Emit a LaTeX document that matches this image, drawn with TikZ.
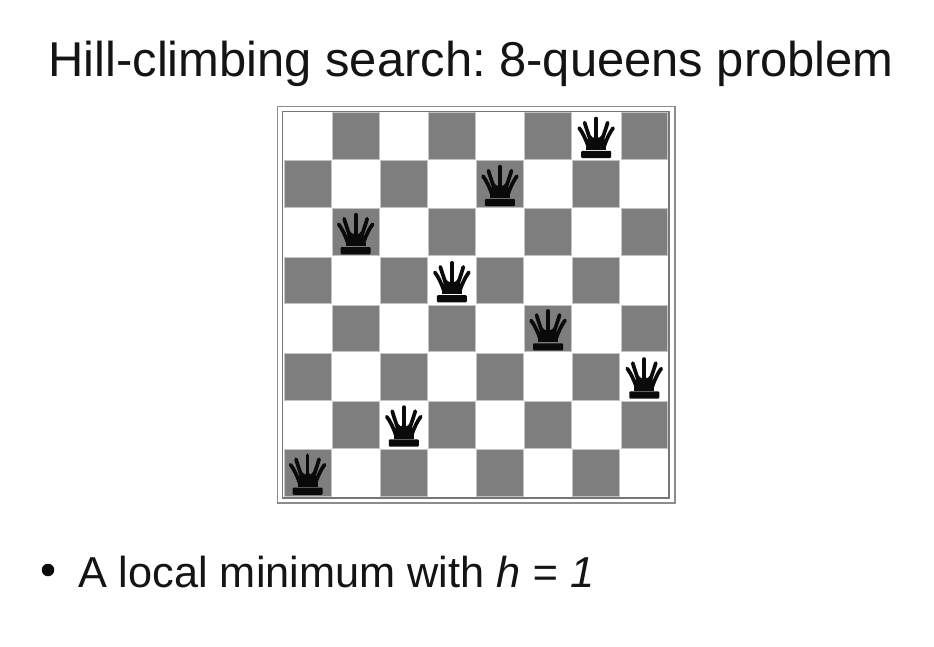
\documentclass[tikz,border=0pt]{standalone}
\usepackage{fontspec}
\setmainfont{Liberation Sans}
\frenchspacing
\definecolor{cellgray}{HTML}{7E7E7E}
\definecolor{framegray}{HTML}{8C8C8C}
\definecolor{inkblack}{HTML}{0A0A0A}
\definecolor{textgray}{HTML}{141414}
\tikzset{
  x=1pt,y=-1pt,
  labeltext/.style={inner sep=0pt,outer sep=0pt,anchor=base west,text=textgray},
  darkcell/.style={fill=cellgray,draw=cellgray!45,line width=0.8pt},
  fingerline/.style={inkblack,line width=3.7pt,line cap=round},
  queen/.pic={
    \fill[inkblack,rounded corners=1pt] (-15,14.8) rectangle (15,22);
    \fill[inkblack] (-10,10.5) rectangle (10,14);
    % solid part of the crown
    \fill[inkblack] (-9.5,11) -- (-11.5,2.5) -- (-7,3.5) -- (-6,-1) -- (-2.5,2) -- (0,-3) -- (2.5,2) -- (6,-1) -- (7,3.5) -- (11.5,2.5) -- (9.5,11) -- cycle;
    % five curved fingers
    \draw[fingerline] (-17,-8) .. controls (-13.5,-3.5) and (-10.5,3) .. (-8,10);
    \draw[fingerline] (17,-8) .. controls (13.5,-3.5) and (10.5,3) .. (8,10);
    \draw[fingerline] (-11.5,-13.5) .. controls (-9.5,-6) and (-6,2) .. (-4.5,10);
    \draw[fingerline] (11.5,-13.5) .. controls (9.5,-6) and (6,2) .. (4.5,10);
    \draw[fingerline] (0,-17.5) -- (0,10);
  }
}
\begin{document}
\begin{tikzpicture}
\useasboundingbox (0,0) rectangle (934,647);
\fill[white] (0,0) rectangle (934,647);
\node[labeltext,font=\fontsize{48.9}{52}\selectfont] (title) at (48.5,77) {Hill-climbing search: 8-queens problem};
% board frame
\draw[framegray,line width=1.8pt,fill=white] (277.5,106.5) rectangle (675,503);
\draw[framegray!85!black,line width=1.8pt] (282.5,111.5) rectangle (669,498);
% cells
\foreach \r in {0,...,7}{
  \foreach \c in {0,...,7}{
    \pgfmathtruncatemacro{\odd}{mod(\r+\c,2)}
    \ifnum\odd=1
      \filldraw[darkcell] ({283.5+48.1*\c+0.7},{112+48.1*\r+0.7}) rectangle ({283.5+48.1*(\c+1)-0.7},{112+48.1*(\r+1)-0.7});
    \fi
  }
}
% queens: column, row
\foreach \c/\r in {6/0,4/1,1/2,3/3,5/4,7/5,2/6,0/7}{
  \pic at ({283.5+48.1*(\c+0.5)},{112+48.1*(\r+0.5)}) {queen};
}
% bullet text
\node[circle,fill=inkblack,minimum size=12.5pt,inner sep=0pt] (bullet) at (48,570) {};
\node[labeltext,font=\fontsize{43.3}{46}\selectfont] (line) at (78,587) {A local minimum with \textit{h = 1}};
\end{tikzpicture}
\end{document}
